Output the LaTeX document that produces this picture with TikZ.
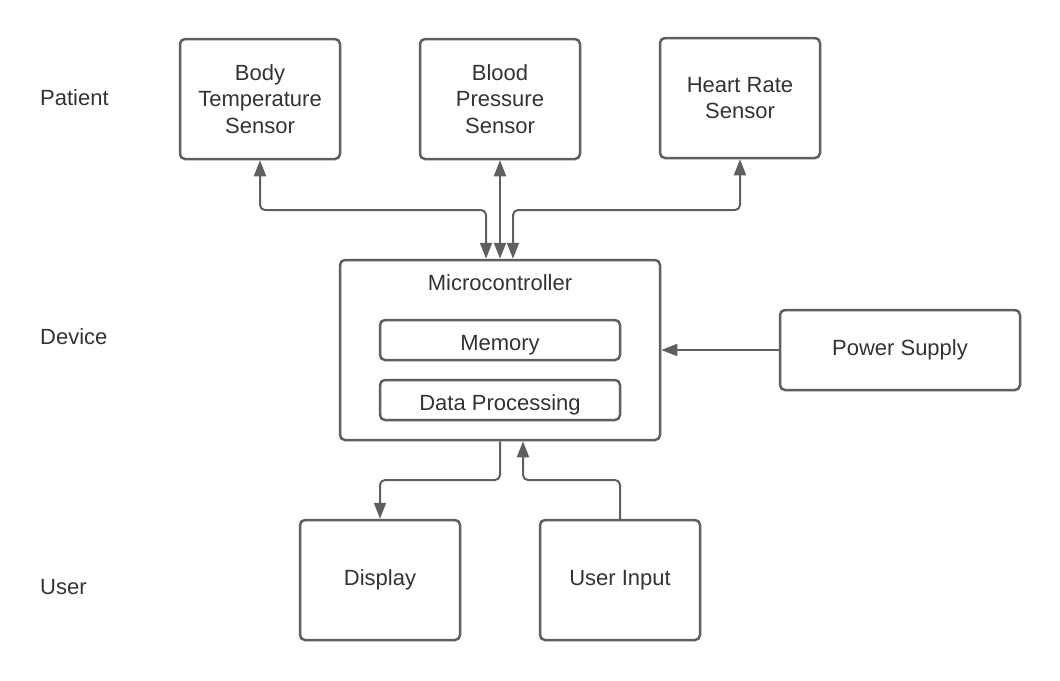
\documentclass[tikz,border=0pt]{standalone}
\usepackage{fontspec}
\setmainfont{Liberation Sans}
\usetikzlibrary{arrows.meta,calc}
\definecolor{edge}{HTML}{5F5F5F}
\definecolor{txt}{HTML}{333333}
\begin{document}
\begin{tikzpicture}[x=1pt,y=-1pt,
  box/.style={draw=edge,line width=2.5pt,rounded corners=5pt,inner sep=0pt,
    text=txt,align=center,font=\fontsize{22}{26.5}\selectfont},
  inbox/.style={box,minimum width=240pt,minimum height=40pt,text height=20pt,text depth=0pt},
  lane/.style={text=txt,anchor=west,font=\fontsize{22}{26.5}\selectfont,inner sep=0pt},
  link/.style={draw=edge,line width=2pt,rounded corners=5pt},
  tip/.style={-{Triangle[width=12pt,length=16pt]}},
  tips/.style={{Triangle[width=12pt,length=16pt]}-{Triangle[width=12pt,length=16pt]}}]
\useasboundingbox (0,0) rectangle (1060,680);
% lane labels
\node[lane] (patient) at (40,98) {Patient};
\node[lane] (device) at (40,337) {Device};
\node[lane] (user) at (40,587) {User};
% sensors
\node[box,minimum width=160pt,minimum height=120pt] (bt) at (260,99) {Body\\Temperature\\Sensor};
\node[box,minimum width=160pt,minimum height=120pt] (bp) at (500,99) {Blood\\Pressure\\Sensor};
\node[box,minimum width=160pt,minimum height=120pt] (hr) at (740,98) {Heart Rate\\Sensor};
% microcontroller
\node[box,minimum width=320pt,minimum height=180pt] (mc) at (500,350) {};
\node[text=txt,font=\fontsize{22}{26.5}\selectfont,inner sep=0pt] (mct) at (500,283) {Microcontroller};
\node[inbox] (mem) at (500,340) {Memory};
\node[inbox] (dp) at (500,400) {Data Processing};
% power
\node[box,minimum width=240pt,minimum height=80pt] (ps) at (900,350) {Power Supply};
% user
\node[box,minimum width=160pt,minimum height=120pt] (disp) at (380,580) {Display};
\node[box,minimum width=160pt,minimum height=120pt] (ui) at (620,580) {User Input};
% junction coordinates
\coordinate (j1) at (486,210);
\coordinate (j3) at (513,210);
\coordinate (j4) at (500,480);
\coordinate (j5) at (523,480);
% connectors
\draw[link,tips] (bt.south) -- (bt.south |- j1) -- (j1) -- (mc.north -| j1);
\draw[link,tips] (bp.south) -- (mc.north);
\draw[link,tips] (hr.south) -- (hr.south |- j3) -- (j3) -- (mc.north -| j3);
\draw[link,tip] (ps.west) -- (mc.east);
\draw[link,tip] (mc.south -| j4) -- (j4) -- (disp.north |- j4) -- (disp.north);
\draw[link,tip] (ui.north) -- (ui.north |- j5) -- (j5) -- (mc.south -| j5);
\end{tikzpicture}
\end{document}
